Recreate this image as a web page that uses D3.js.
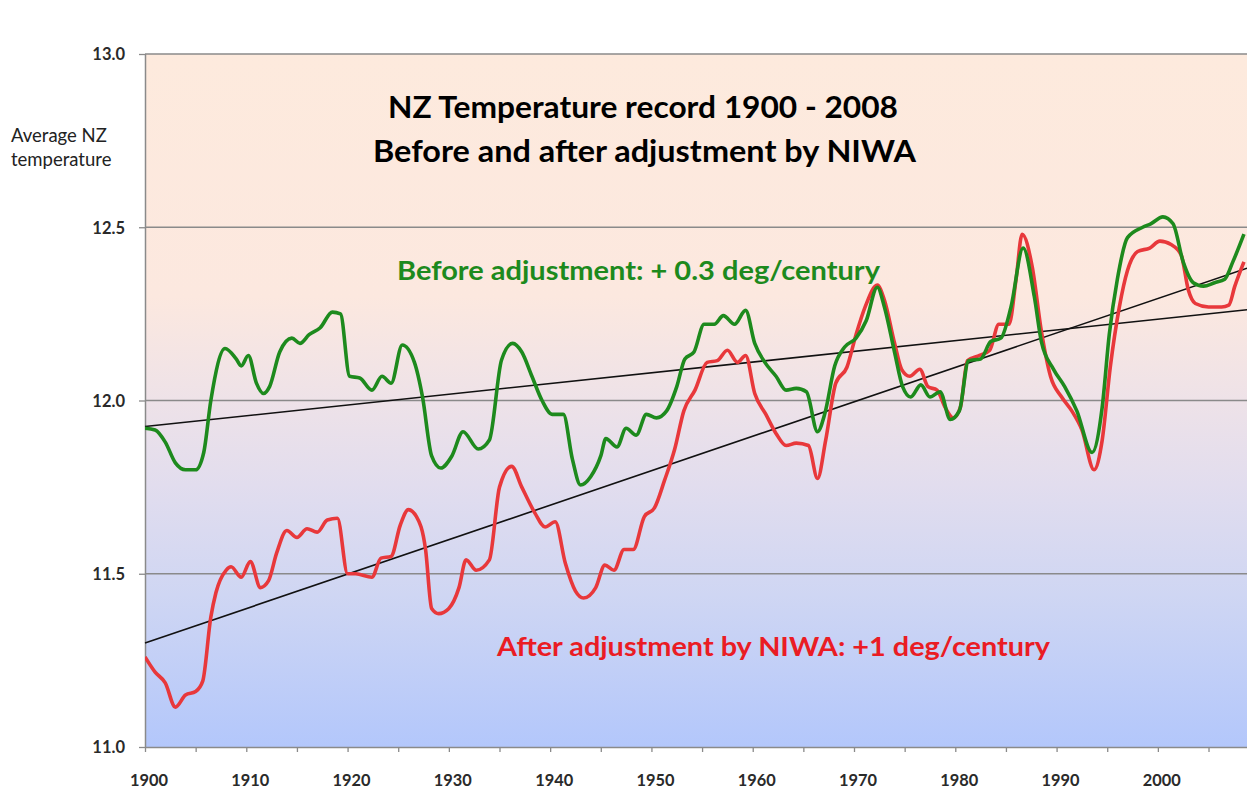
<!DOCTYPE html>
<html>
<head>
<meta charset="utf-8">
<script src="https://cdn.jsdelivr.net/npm/d3@7"></script>
<style>
  html, body { margin: 0; padding: 0; background: #fff; }
  svg { display: block; }
</style>
</head>
<body>
<div id="chart"></div>
<script>
// ---------- DATA ----------
const titleLines = ["NZ Temperature record 1900 - 2008", "Before and after adjustment by NIWA"];
const yAxisLabel = ["Average NZ", "temperature"];
const xTickValues = [1900, 1910, 1920, 1930, 1940, 1950, 1960, 1970, 1980, 1990, 2000];
const xMinorTicks = [1900,1905,1910,1915,1920,1925,1930,1935,1940,1945,1950,1955,1960,1965,1970,1975,1980,1985,1990,1995,2000,2005];
const yTickValues = [11.0, 11.5, 12.0, 12.5, 13.0];

const beforeYears = [1900,1901,1902,1903,1904,1905,1905.8,1906.5,1907.9,1909,1909.5,1910.2,1911,1911.7,1912.3,1913.3,1914.5,1915.3,1916.2,1917.3,1918.5,1919.3,1920.2,1921.2,1922.4,1923.4,1924.3,1925.4,1926.6,1927.4,1928.3,1929.2,1930.3,1931.4,1932.9,1934,1935.2,1936.3,1937.2,1938.2,1939.2,1940.2,1941.3,1942.2,1943,1944,1945,1945.5,1946.6,1947.5,1948.5,1949.5,1950.5,1951.5,1952.5,1953.3,1954.2,1955.2,1956.2,1957.1,1958.2,1959.3,1960.2,1961.2,1962.3,1963.3,1964.3,1965.3,1966.4,1967.1,1968.1,1969.1,1970.2,1971.2,1972.3,1973,1974,1974.8,1975.6,1976.6,1977.5,1978.5,1979.5,1980.4,1981.3,1982.5,1983.5,1984.5,1985.5,1986.7,1987.8,1988.5,1989.7,1990.8,1992,1993.5,1994.5,1995.2,1996,1997,1998.5,1999.3,2000.5,2001.5,2002.5,2003.5,2004.5,2005.6,2006.6,2007.4,2008.5];
const beforeValues = [11.92,11.915,11.88,11.82,11.80,11.80,11.85,12.0,12.15,12.12,12.10,12.13,12.05,12.02,12.04,12.14,12.18,12.165,12.19,12.21,12.255,12.25,12.07,12.065,12.03,12.07,12.05,12.16,12.11,12.01,11.84,11.805,11.84,11.91,11.86,11.886,12.117,12.165,12.14,12.07,12.0,11.96,11.96,11.83,11.756,11.78,11.84,11.89,11.866,11.92,11.90,11.96,11.95,11.97,12.04,12.12,12.14,12.22,12.22,12.245,12.22,12.26,12.165,12.11,12.07,12.03,12.035,12.025,11.91,11.96,12.10,12.155,12.18,12.23,12.327,12.27,12.14,12.04,12.01,12.045,12.01,12.025,11.945,11.97,12.115,12.12,12.17,12.18,12.27,12.44,12.30,12.17,12.09,12.04,11.97,11.85,11.98,12.19,12.35,12.47,12.50,12.51,12.53,12.51,12.40,12.34,12.33,12.34,12.35,12.40,12.48];

const afterYears = [1900,1901,1902,1903,1904,1905,1905.7,1906.5,1907,1908,1908.5,1909.5,1910.4,1911.4,1912.2,1913,1914,1915,1916,1917,1918,1919,1920,1920.8,1922.4,1923.3,1924.3,1925.2,1926,1926.8,1927.7,1928.3,1929,1930,1931,1931.7,1932.7,1934,1935,1936.2,1937.2,1938.5,1939.5,1940.5,1941.5,1942.5,1943.3,1944.5,1945.4,1946.3,1947.3,1948.2,1949.3,1950.3,1951.3,1952.3,1953.2,1954.3,1955.5,1956.5,1957.5,1958.5,1959.3,1960.2,1961.3,1962.3,1963.3,1964.3,1965.5,1966.4,1967.2,1968.2,1969.3,1970.2,1971.1,1972.3,1973,1974,1974.7,1975.5,1976.5,1977.3,1978.2,1979,1979.8,1980.5,1981.2,1982.4,1983.4,1984.3,1985.3,1986,1986.6,1987.6,1988.5,1989.4,1990.5,1991.5,1992.5,1993.7,1994.5,1995.3,1996.2,1997,1998,1999.2,2000.2,2001.3,2002.3,2003,2003.7,2005,2006.3,2007,2007.6,2008.5];
const afterValues = [11.26,11.216,11.185,11.115,11.15,11.16,11.19,11.375,11.445,11.51,11.52,11.49,11.535,11.46,11.48,11.56,11.625,11.605,11.63,11.62,11.655,11.66,11.50,11.50,11.49,11.545,11.55,11.64,11.685,11.665,11.57,11.40,11.385,11.40,11.46,11.54,11.51,11.54,11.75,11.81,11.75,11.675,11.635,11.65,11.53,11.45,11.43,11.46,11.525,11.51,11.57,11.57,11.665,11.69,11.77,11.86,11.97,12.03,12.11,12.115,12.145,12.11,12.13,12.02,11.96,11.905,11.87,11.877,11.87,11.775,11.885,12.05,12.096,12.19,12.27,12.333,12.29,12.166,12.09,12.07,12.09,12.04,12.03,11.98,11.95,11.98,12.115,12.13,12.145,12.22,12.22,12.35,12.48,12.385,12.20,12.07,12.01,11.97,11.915,11.80,11.885,12.096,12.27,12.375,12.43,12.44,12.46,12.45,12.42,12.32,12.28,12.27,12.27,12.275,12.33,12.40];

const trendYears = [1900, 2008.8];
const beforeTrend = [11.925, 12.262];
const afterTrend = [11.30, 12.382];

const beforeLabel = "Before adjustment: + 0.3 deg/century";
const afterLabel = "After adjustment by NIWA: +1 deg/century";

// ---------- LAYOUT ----------
const W = 1247, H = 790;
const mLeft = 145, mRight = 1247, mTop = 54, mBottom = 747;

const svg = d3.select("#chart").append("svg").attr("width", W).attr("height", H);

const x = d3.scaleLinear().domain([1900, 2008.8]).range([mLeft, mRight]);
const y = d3.scaleLinear().domain([11.0, 13.0]).range([mBottom, mTop]);

// gradient background
const defs = svg.append("defs");
const grad = defs.append("linearGradient").attr("id", "bg").attr("x1", 0).attr("y1", 0).attr("x2", 0).attr("y2", 1);
[["0%", "#fdeadd"], ["35%", "#fce8df"], ["50%", "#eee2e8"], ["62%", "#e2ddee"], ["78%", "#cfd6f3"], ["100%", "#b3c7fb"]]
  .forEach(([o, c]) => grad.append("stop").attr("offset", o).attr("stop-color", c));
defs.append("clipPath").attr("id", "clip")
  .append("rect").attr("x", mLeft).attr("y", mTop - 10).attr("width", mRight - mLeft + 10).attr("height", mBottom - mTop + 20);

svg.append("rect").attr("x", mLeft).attr("y", mTop).attr("width", mRight - mLeft).attr("height", mBottom - mTop).attr("fill", "url(#bg)");

// gridlines
svg.append("g").selectAll("line").data(yTickValues.filter(v => v > 11.0)).join("line")
  .attr("x1", mLeft).attr("x2", mRight).attr("y1", d => y(d)).attr("y2", d => y(d))
  .attr("stroke", "#8a8a8a").attr("stroke-width", 1.3);

// axes
const xAxis = d3.axisBottom(x).tickValues(xMinorTicks).tickSize(5).tickFormat("");
const gx = svg.append("g").attr("transform", `translate(0,${mBottom})`).call(xAxis);
gx.select(".domain").attr("stroke", "#8a8a8a").attr("stroke-width", 1.5).attr("d", `M${mLeft},0.5H${mRight}`);
gx.selectAll(".tick line").attr("stroke", "#8a8a8a").attr("stroke-width", 1.3);

svg.append("g").selectAll("text").data(xTickValues).join("text")
  .attr("x", d => x(d) + 4).attr("y", mBottom + 39)
  .attr("text-anchor", "middle")
  .attr("font-family", "Lato, 'Open Sans', sans-serif").attr("font-size", 17).attr("font-weight", 700)
  .attr("fill", "#2a2a2a").attr("textLength", 38).attr("lengthAdjust", "spacingAndGlyphs").text(d => d);

const yAxis = d3.axisLeft(y).tickValues(yTickValues).tickSize(6).tickFormat(d3.format(".1f"));
const gy = svg.append("g").attr("transform", `translate(${mLeft},0)`).call(yAxis);
gy.select(".domain").attr("stroke", "#8a8a8a").attr("stroke-width", 1.5).attr("d", `M0.5,${mTop}V${mBottom}`);
gy.selectAll(".tick line").attr("stroke", "#8a8a8a").attr("stroke-width", 1.3);
gy.selectAll(".tick text").attr("x", -20).attr("dy", "0.35em")
  .attr("font-family", "Lato, 'Open Sans', sans-serif").attr("font-size", 16.5).attr("font-weight", 700)
  .attr("fill", "#2a2a2a");

// y axis label
svg.append("g").selectAll("text").data(yAxisLabel).join("text")
  .attr("x", 11).attr("y", (d, i) => 142 + i * 24)
  .attr("font-family", "Lato, 'Open Sans', sans-serif").attr("font-size", 18.5)
  .attr("fill", "#222").text(d => d);

// trend lines
const tline = d3.line().x(d => x(d[0])).y(d => y(d[1]));
svg.append("path").datum(trendYears.map((t, i) => [t, beforeTrend[i]]))
  .attr("d", tline).attr("fill", "none").attr("stroke", "#111").attr("stroke-width", 1.6);
svg.append("path").datum(trendYears.map((t, i) => [t, afterTrend[i]]))
  .attr("d", tline).attr("fill", "none").attr("stroke", "#111").attr("stroke-width", 1.6);

// series
const sline = d3.line().x(d => x(d[0])).y(d => y(d[1])).curve(d3.curveMonotoneX);

svg.append("path").datum(afterYears.map((t, i) => [t, afterValues[i]]))
  .attr("d", sline).attr("fill", "none").attr("stroke", "#e8383b").attr("stroke-width", 3.6)
  .attr("stroke-linejoin", "round").attr("clip-path", "url(#clip)");
svg.append("path").datum(beforeYears.map((t, i) => [t, beforeValues[i]]))
  .attr("d", sline).attr("fill", "none").attr("stroke", "#1d8a1d").attr("stroke-width", 3.6)
  .attr("stroke-linejoin", "round").attr("clip-path", "url(#clip)");

// titles
const titleFont = "Lato, 'Open Sans', sans-serif";
svg.append("text").attr("x", 388).attr("y", 118).attr("font-family", titleFont).attr("font-weight", 700)
  .attr("font-size", 31).attr("fill", "#000").attr("textLength", 510).attr("lengthAdjust", "spacingAndGlyphs")
  .text(titleLines[0]);
svg.append("text").attr("x", 373).attr("y", 162).attr("font-family", titleFont).attr("font-weight", 700)
  .attr("font-size", 31).attr("fill", "#000").attr("textLength", 543).attr("lengthAdjust", "spacingAndGlyphs")
  .text(titleLines[1]);

svg.append("text").attr("x", 397).attr("y", 280).attr("font-family", titleFont).attr("font-weight", 700)
  .attr("font-size", 27).attr("fill", "#1d8a1d").attr("textLength", 483).attr("lengthAdjust", "spacingAndGlyphs")
  .text(beforeLabel);
svg.append("text").attr("x", 497).attr("y", 656).attr("font-family", titleFont).attr("font-weight", 700)
  .attr("font-size", 27).attr("fill", "#ea1c24").attr("textLength", 553).attr("lengthAdjust", "spacingAndGlyphs")
  .text(afterLabel);
</script>
</body>
</html>
